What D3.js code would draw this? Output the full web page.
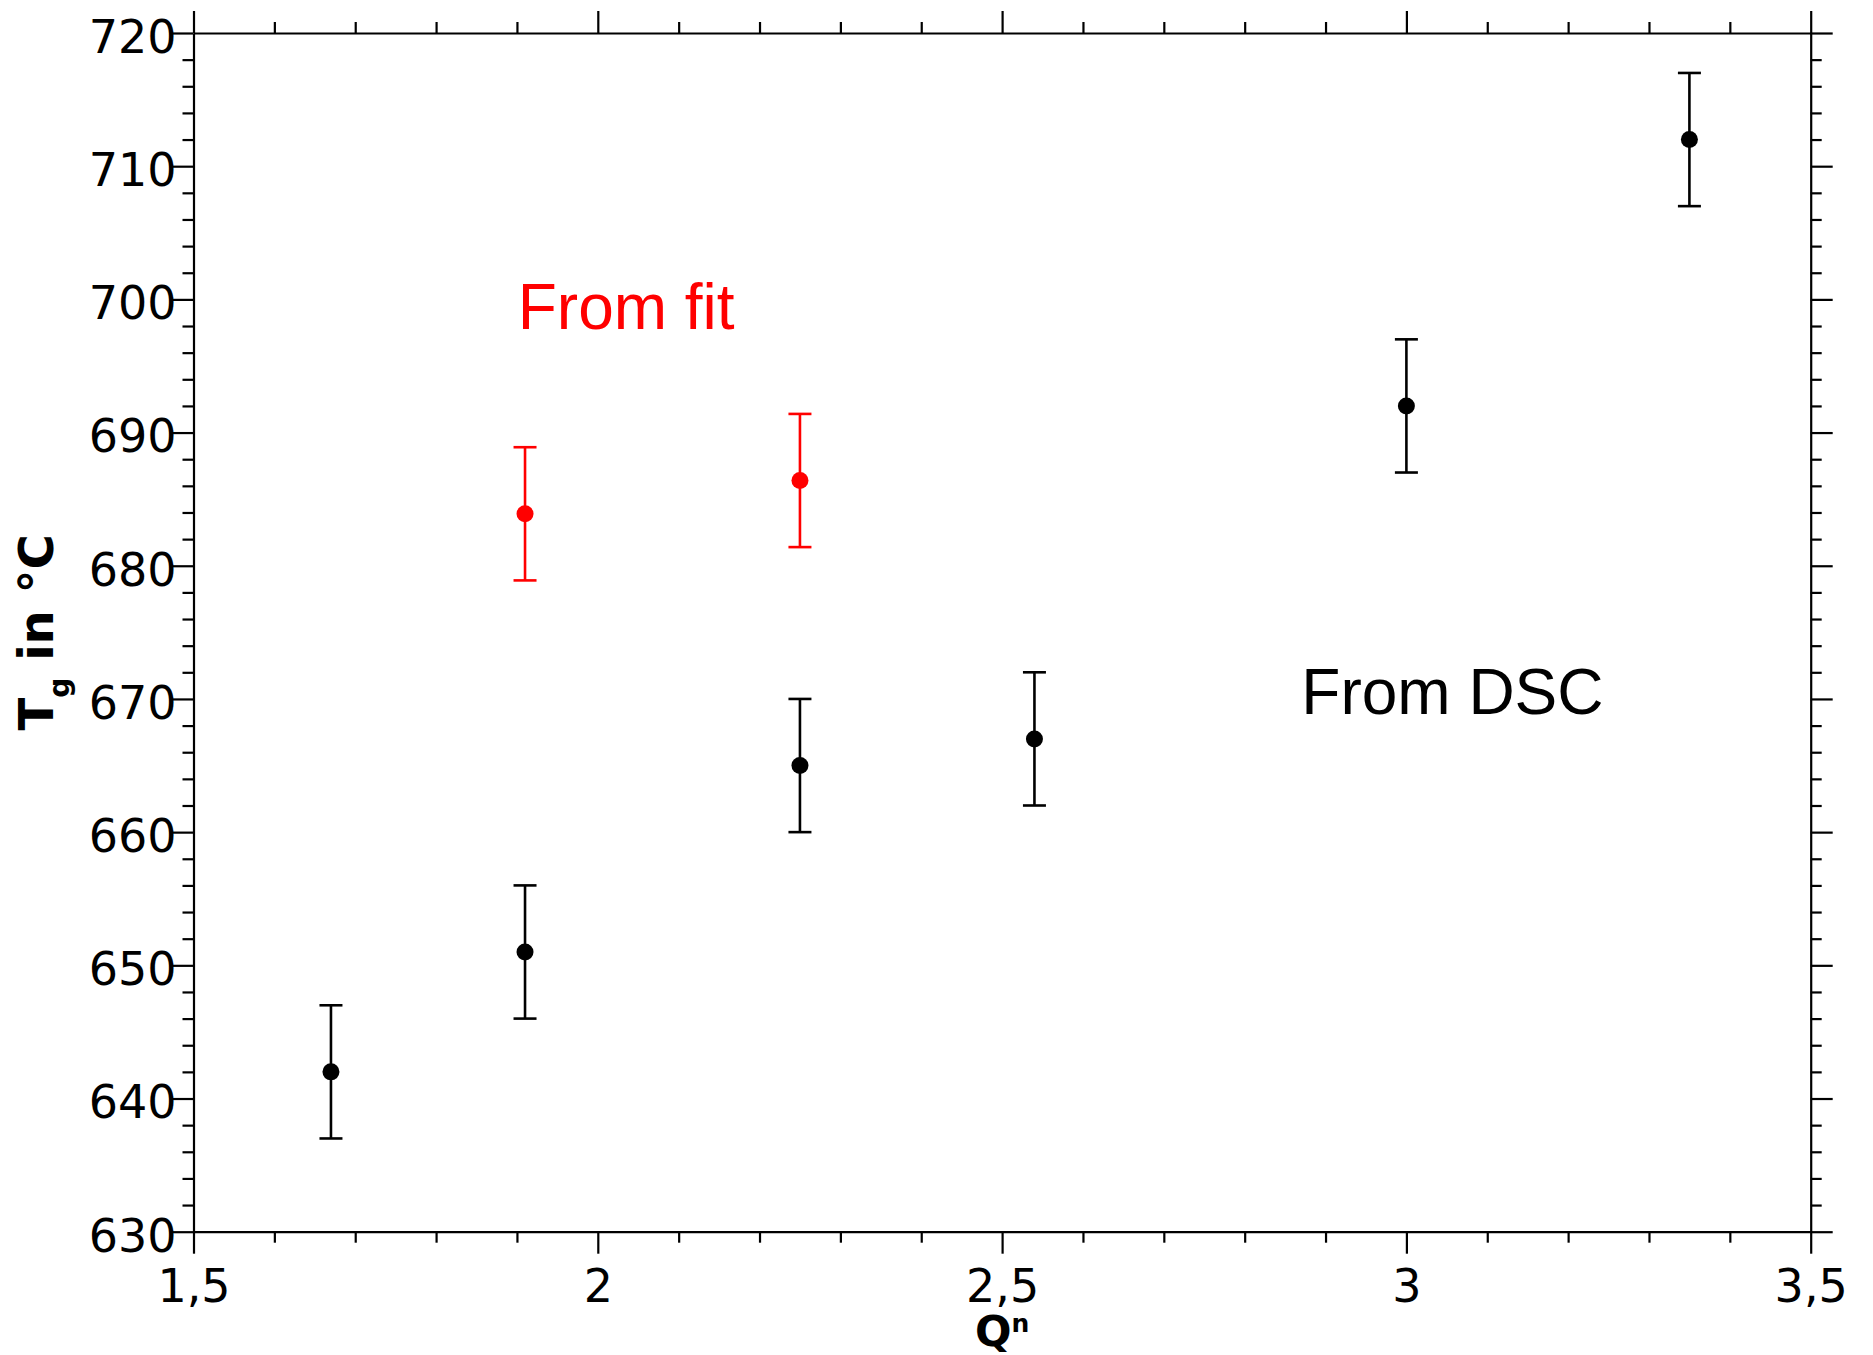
<!DOCTYPE html>
<html>
<head>
<meta charset="utf-8">
<script src="https://cdn.jsdelivr.net/npm/d3@7"></script>
<style>
  html, body { margin: 0; padding: 0; background: #fff; }
  svg { display: block; }
</style>
</head>
<body>
<svg id="chart"></svg>
<script>
// Tg from DSC (black)
const dscQ = [1.67, 1.91, 2.25, 2.54, 3.0, 3.35];
const dscTg = [642, 651, 665, 667, 692, 712];
const dscErr = [5, 5, 5, 5, 5, 5];

// Tg from fit (red)
const fitQ = [1.91, 2.25];
const fitTg = [683.9, 686.4];
const fitErr = [5, 5];

const xMajor = [1.5, 2, 2.5, 3, 3.5];
const yMajor = [630, 640, 650, 660, 670, 680, 690, 700, 710, 720];

// annotation anchors, in data units
const labels = [
    {text: "From fit", q: 1.901, tg: 697.8, color: "#ff0000"},
    {text: "From DSC", q: 2.870, tg: 668.9, color: "#000000"}
];

const W = 1873, H = 1355;
const margin = {top: 33, right: 62.3, bottom: 123.3, left: 193.5};

const svg = d3.select("#chart")
    .attr("width", W)
    .attr("height", H);

const x = d3.scaleLinear()
    .domain([1.5, 3.5])
    .range([margin.left, W - margin.right]);

const y = d3.scaleLinear()
    .domain([630, 720])
    .range([H - margin.bottom, margin.top]);

const fmt = d => String(d).replace(".", ",");
const xMinor = d3.range(15, 36).map(d => d / 10).filter(d => !xMajor.includes(d));
const yMinor = d3.range(630, 721, 2).filter(d => d % 10 !== 0);

const majorLen = 22, minorLen = 11;
const axisColor = "#000";
const axisWidth = 2.2;

// one side of the frame: major + minor ticks, pointing outward
function side(axisFn, scale, translate, withLabels) {
    const horiz = axisFn === d3.axisBottom || axisFn === d3.axisTop;
    const g = svg.append("g").attr("transform", translate);
    g.call(axisFn(scale).tickValues(horiz ? xMajor : yMajor)
        .tickSize(majorLen).tickSizeOuter(0)
        .tickFormat(withLabels ? fmt : () => ""));
    g.append("g").call(axisFn(scale).tickValues(horiz ? xMinor : yMinor)
        .tickSize(minorLen).tickSizeOuter(0).tickFormat(() => ""))
        .select(".domain").remove();
    g.selectAll(".domain, line").attr("stroke", axisColor).attr("stroke-width", axisWidth);
    g.selectAll("text").attr("fill", "#000");
    return g;
}

const gx = side(d3.axisBottom, x, `translate(0,${y(630)})`, true);
gx.selectAll(".tick text")
    .attr("font-family", "DejaVu Sans")
    .attr("font-size", 46)
    .attr("dy", null)
    .attr("y", 70.5);

side(d3.axisTop, x, `translate(0,${y(720)})`, false);

const gy = side(d3.axisLeft, y, `translate(${x(1.5)},0)`, true);
gy.selectAll(".tick text")
    .attr("font-family", "DejaVu Sans")
    .attr("font-size", 46)
    .attr("x", -17)
    .attr("dy", "0.42em");

side(d3.axisRight, y, `translate(${x(3.5)},0)`, false);

// axis titles
const xt = svg.append("text")
    .attr("x", x(2.5))
    .attr("y", 1346)
    .attr("text-anchor", "middle")
    .attr("font-family", "DejaVu Sans")
    .attr("font-weight", "bold")
    .attr("font-size", 43);
xt.append("tspan").text("Q");
xt.append("tspan").attr("font-size", 25).attr("dy", -14).text("n");

const yt = svg.append("text")
    .attr("transform", `translate(53,${(y(630) + y(720)) / 2}) rotate(-90)`)
    .attr("text-anchor", "middle")
    .attr("font-family", "DejaVu Sans")
    .attr("font-weight", "bold")
    .attr("font-size", 48);
yt.append("tspan").text("T");
yt.append("tspan").attr("font-size", 28).attr("dy", 15.5).text("g");
yt.append("tspan").attr("dy", -15.5).text(" in °C");

// error bars + points
function series(qs, tgs, errs, color) {
    const data = qs.map((q, i) => ({q, tg: tgs[i], e: errs[i]}));
    const g = svg.append("g").attr("stroke", color).attr("stroke-width", 2.6);
    const cap = 11.5;

    g.selectAll(".stem").data(data).join("line")
        .attr("class", "stem")
        .attr("x1", d => x(d.q)).attr("x2", d => x(d.q))
        .attr("y1", d => y(d.tg - d.e)).attr("y2", d => y(d.tg + d.e));

    g.selectAll(".cap-top").data(data).join("line")
        .attr("class", "cap-top")
        .attr("x1", d => x(d.q) - cap).attr("x2", d => x(d.q) + cap)
        .attr("y1", d => y(d.tg + d.e)).attr("y2", d => y(d.tg + d.e));

    g.selectAll(".cap-bot").data(data).join("line")
        .attr("class", "cap-bot")
        .attr("x1", d => x(d.q) - cap).attr("x2", d => x(d.q) + cap)
        .attr("y1", d => y(d.tg - d.e)).attr("y2", d => y(d.tg - d.e));

    svg.append("g").selectAll("circle").data(data).join("circle")
        .attr("cx", d => x(d.q))
        .attr("cy", d => y(d.tg))
        .attr("r", 8.5)
        .attr("fill", color);
}

series(dscQ, dscTg, dscErr, "#000000");
series(fitQ, fitTg, fitErr, "#ff0000");

// annotations
svg.append("g").selectAll("text").data(labels).join("text")
    .attr("x", d => x(d.q))
    .attr("y", d => y(d.tg))
    .attr("font-family", "Liberation Sans, Arial, sans-serif")
    .attr("font-size", 64)
    .attr("fill", d => d.color)
    .text(d => d.text);
</script>
</body>
</html>
